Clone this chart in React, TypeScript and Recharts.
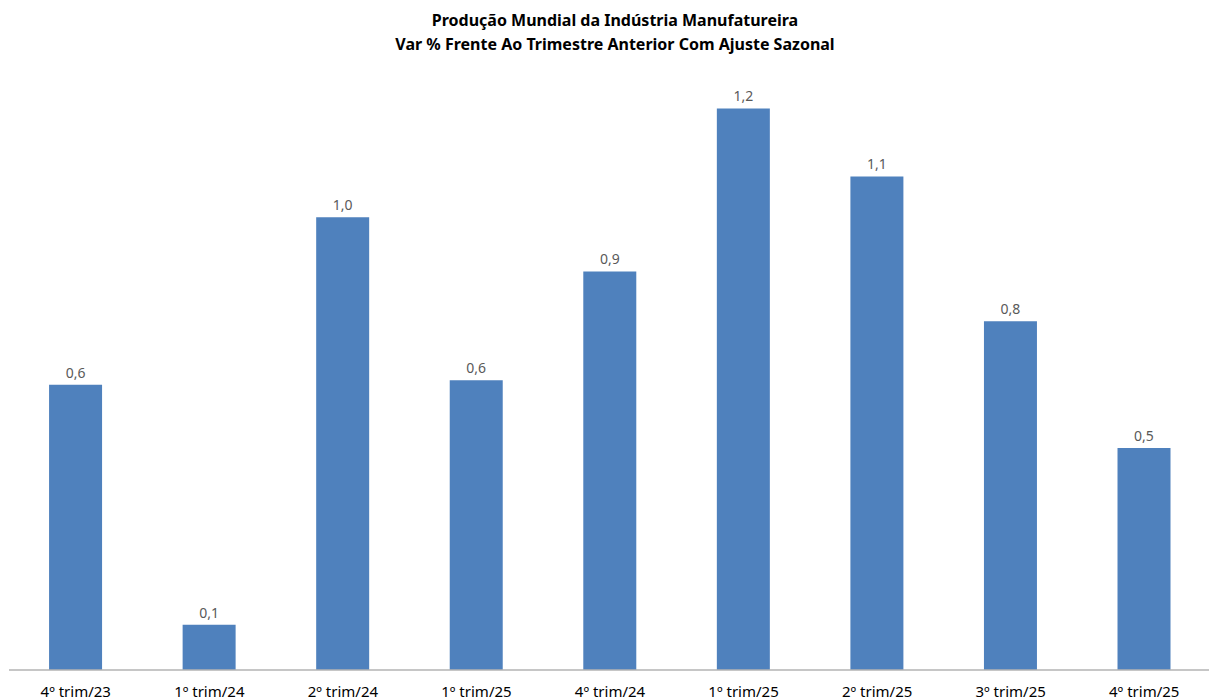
import React from 'react';
import { BarChart, Bar, XAxis, YAxis, LabelList } from 'recharts';

const quarters = [
  '4º trim/23',
  '1º trim/24',
  '2º trim/24',
  '1º trim/25',
  '4º trim/24',
  '1º trim/25',
  '2º trim/25',
  '3º trim/25',
  '4º trim/25',
];

const changes = [0.63, 0.1, 1.0, 0.64, 0.88, 1.24, 1.09, 0.77, 0.49];

const data = quarters.map((q, i) => ({ quarter: q, value: changes[i] }));

const FONT = '"Noto Sans", "Open Sans", sans-serif';

const fmt = (v: any) => Number(v).toFixed(1).replace('.', ',');

const App = () => {
  return (
    <div style={{ position: 'absolute', left: 0, top: 0, width: 1209, height: 700, overflow: 'hidden', background: '#fff', fontFamily: FONT }}>
      {/* title */}
      <div
        style={{
          position: 'absolute',
          top: 8,
          left: 0,
          width: 1230,
          textAlign: 'center',
          fontWeight: 'bold',
          fontSize: 16,
          lineHeight: '24px',
          color: '#000',
        }}
      >
        Produção Mundial da Indústria Manufatureira
        <br />
        Var % Frente Ao Trimestre Anterior Com Ajuste Sazonal
      </div>
      <BarChart
        width={1211}
        height={700}
        data={data}
        margin={{ top: 36, right: 0, bottom: 0, left: 9 }}
        barCategoryGap="30%"
      >
        <XAxis
          dataKey="quarter"
          height={30}
          tickLine={false}
          axisLine={{ stroke: '#b3b3b3', strokeWidth: 1.5 }}
          tickMargin={10}
          interval={0}
          tick={{ fontSize: 15, fill: '#000', fontFamily: FONT }}
        />
        <YAxis hide domain={[0, 1.4]} />
        <Bar dataKey="value" fill="#4f81bd" isAnimationActive={false}>
          <LabelList
            dataKey="value"
            position="top"
            offset={7}
            formatter={fmt}
            style={{ fontSize: 14, fill: '#595959', fontFamily: FONT }}
          />
        </Bar>
      </BarChart>
    </div>
  );
};

export default App;
